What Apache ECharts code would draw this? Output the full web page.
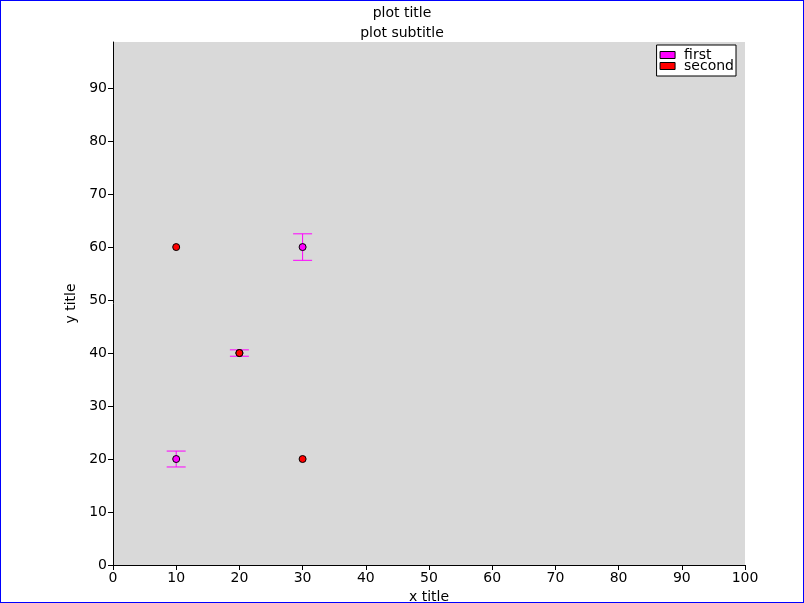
<!DOCTYPE html>
<html>
<head>
<meta charset="utf-8">
<script src="https://cdn.jsdelivr.net/npm/echarts@6/dist/echarts.min.js"></script>
<style>
  html, body { margin: 0; padding: 0; background: #fff; }
  #wrap { position: relative; width: 804px; height: 603px; }
  #chart { width: 804px; height: 603px; }
  #frame { position: absolute; left: 0; top: 0; width: 804px; height: 603px;
           box-sizing: border-box; border: 1px solid #0000ff; pointer-events: none; }
</style>
</head>
<body>
<div id="wrap"><div id="chart"></div><div id="frame"></div></div>
<script>
  // data
  const firstX = [10, 20, 30];
  const firstY = [20, 40, 60];
  const firstErr = [1.5, 0.6, 2.5];
  const secondX = [10, 20, 30];
  const secondY = [60, 40, 20];

  const FONT = 'DejaVu Sans';
  const MAGENTA = '#ff00ff';
  const RED = '#ff0000';

  const chart = echarts.init(document.getElementById('chart'), null, { renderer: 'canvas' });

  const errData = firstX.map((x, i) => [x, firstY[i], firstErr[i]]);

  function renderErr(params, api) {
    const x = api.value(0), y = api.value(1), e = api.value(2);
    const top = api.coord([x, y + e]);
    const bot = api.coord([x, y - e]);
    const cap = 9.5;
    const style = { stroke: MAGENTA, lineWidth: 1 };
    return {
      type: 'group',
      children: [
        { type: 'line', shape: { x1: top[0], y1: top[1], x2: bot[0], y2: bot[1] }, style },
        { type: 'line', shape: { x1: top[0] - cap, y1: top[1], x2: top[0] + cap, y2: top[1] }, style },
        { type: 'line', shape: { x1: bot[0] - cap, y1: bot[1], x2: bot[0] + cap, y2: bot[1] }, style },
      ],
    };
  }

  const axisCommon = {
    axisLine: { show: true, onZero: false, lineStyle: { color: '#000', width: 1 } },
    axisTick: { show: true, inside: false, length: 5, lineStyle: { color: '#000' } },
    axisLabel: { color: '#000', fontSize: 14, fontFamily: FONT, margin: 6 },
    splitLine: { show: false },
    nameLocation: 'middle',
    nameTextStyle: { color: '#000', fontSize: 14, fontFamily: FONT },
  };

  const swatch = { borderColor: '#000', borderWidth: 1 };

  chart.setOption({
    animation: false,
    backgroundColor: '#fff',
    title: {
      text: 'plot title',
      subtext: 'plot subtitle',
      left: 'center',
      top: 1,
      itemGap: 6,
      textStyle: { color: '#000', fontSize: 14, fontWeight: 'normal', fontFamily: FONT },
      subtextStyle: { color: '#000', fontSize: 14, fontFamily: FONT },
    },
    legend: {
      data: [
        { name: 'first', itemStyle: Object.assign({ color: MAGENTA }, swatch) },
        { name: 'second', itemStyle: Object.assign({ color: RED }, swatch) },
      ],
      orient: 'vertical',
      right: 68,
      top: 45,
      icon: 'rect',
      itemWidth: 15,
      itemHeight: 7,
      itemGap: -3,
      padding: [3, 2, 3, 3],
      backgroundColor: '#fff',
      borderColor: '#000',
      borderWidth: 1,
      borderRadius: 0,
      textStyle: { color: '#000', fontSize: 14, fontFamily: FONT, lineHeight: 11, padding: [0, 0, 0, 4] },
    },
    grid: {
      left: 113, right: 59, top: 42, bottom: 38,
      outerBoundsMode: 'none',
      containLabel: false,
      show: true, backgroundColor: '#d9d9d9', borderWidth: 0,
    },
    xAxis: Object.assign({}, axisCommon, {
      type: 'value', min: 0, max: 100, interval: 10,
      name: 'x title', nameGap: 18,
    }),
    yAxis: Object.assign({}, axisCommon, {
      type: 'value', min: 0, max: 98.7, interval: 10,
      name: 'y title', nameGap: 33,
      axisLabel: Object.assign({}, axisCommon.axisLabel, { showMaxLabel: false }),
    }),
    series: [
      {
        name: 'first',
        type: 'custom',
        renderItem: renderErr,
        data: errData,
        encode: { x: 0, y: 1 },
        itemStyle: { color: MAGENTA },
        z: 2,
        silent: true,
      },
      {
        name: 'first',
        type: 'scatter',
        data: firstX.map((x, i) => [x, firstY[i]]),
        symbol: 'circle',
        symbolSize: 7,
        itemStyle: { color: MAGENTA, borderColor: '#000', borderWidth: 1, opacity: 1 },
        z: 3,
      },
      {
        name: 'second',
        type: 'scatter',
        data: secondX.map((x, i) => [x, secondY[i]]),
        symbol: 'circle',
        symbolSize: 7,
        itemStyle: { color: RED, borderColor: '#000', borderWidth: 1, opacity: 1 },
        z: 4,
      },
    ],
  });
</script>
</body>
</html>
